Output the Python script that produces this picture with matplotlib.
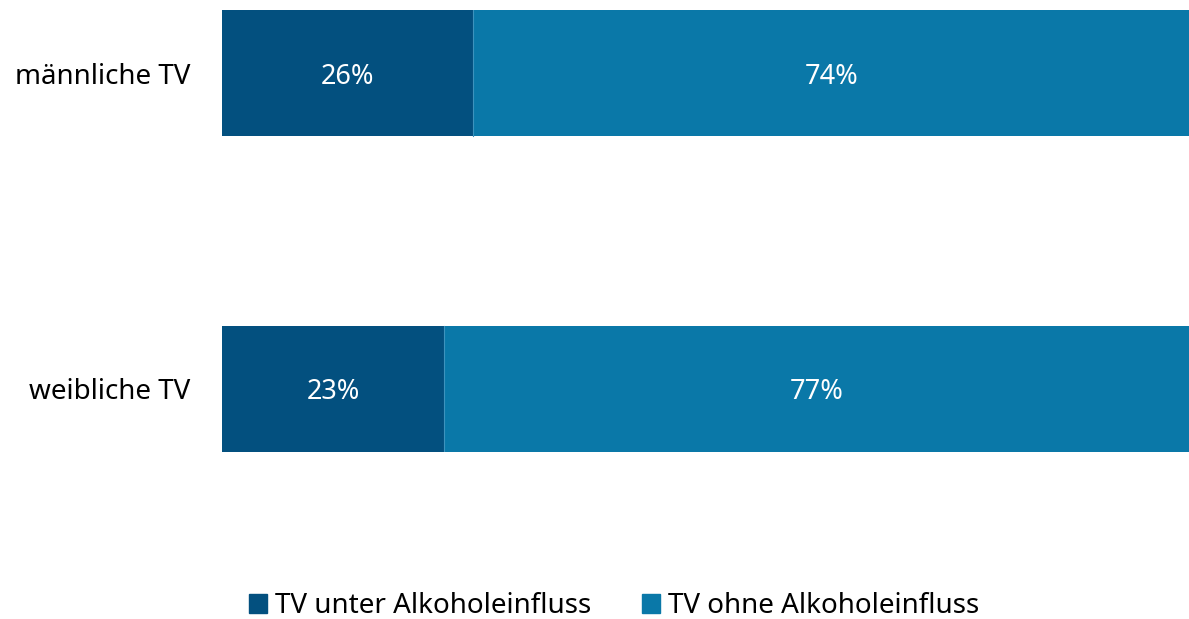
import matplotlib.pyplot as plt
from matplotlib.patches import Patch

categories = ["männliche TV", "weibliche TV"]
unter = [26, 23]
ohne = [74, 77]
series_names = ["TV unter Alkoholeinfluss", "TV ohne Alkoholeinfluss"]
colors = ["#03507f", "#0a78a8"]

plt.rcParams['font.family'] = ['Noto Sans', 'DejaVu Sans']

W, H = 1189, 619
fig = plt.figure(figsize=(W / 100, H / 100), dpi=100)
ax = fig.add_axes([222 / W, (H - 452) / H, (W - 222) / W, 442 / H])

y = list(range(len(categories)))
ax.barh(y, unter, height=0.4, color=colors[0], linewidth=0)
ax.barh(y, ohne, left=unter, height=0.4, color=colors[1], linewidth=0)
for i in y:
    ax.plot([unter[i], unter[i]], [i - 0.2, i + 0.2], color="#3d93bd", lw=0.8)
    ax.text(unter[i] / 2, i, f"{unter[i]}%", ha="center", va="center_baseline",
            color="white", fontsize=19.5)
    ax.text(unter[i] + ohne[i] / 2, i, f"{ohne[i]}%", ha="center",
            va="center_baseline", color="white", fontsize=19.5)

ax.set_xlim(0, 100)
ax.set_ylim(1.2, -0.2)
ax.set_yticks(y)
ax.set_yticklabels(categories, fontsize=20)
ax.tick_params(axis="y", length=0, pad=23)
ax.set_xticks([])
for s in ax.spines.values():
    s.set_visible(False)

handles = [Patch(color=c) for c in colors]
fig.legend(handles, series_names, loc="center", bbox_to_anchor=(614 / W, 13 / H),
           ncol=2, frameon=False, fontsize=20, handlelength=0.65, handleheight=0.65,
           handletextpad=0.3, columnspacing=1.8)

fig.savefig("out.png", dpi=100)
